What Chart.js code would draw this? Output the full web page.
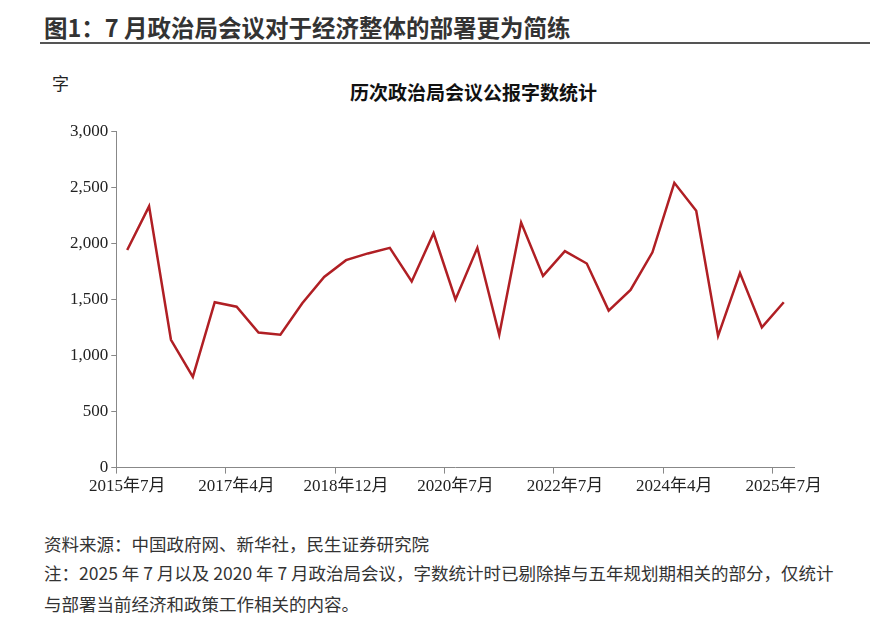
<!DOCTYPE html>
<html><head><meta charset="utf-8">
<script src="https://cdn.jsdelivr.net/npm/chart.js@4"></script>
<style>
body{margin:0;width:886px;height:627px;background:#fff;font-family:"Noto Sans CJK SC",sans-serif;position:relative;overflow:hidden}
.hd{position:absolute;left:44px;top:10px;font-size:23.5px;font-weight:bold;color:#333}
.line{position:absolute;left:40px;top:42px;width:830px;border-top:2px solid #555}
.unit{position:absolute;left:52px;top:70px;font-size:17px;color:#222}
.ttl{position:absolute;left:350px;top:78px;font-size:19px;font-weight:bold;color:#111}
.foot{position:absolute;left:44px;font-size:17.5px;color:#333}
#wrap{position:absolute;left:67px;top:118px;width:758px;height:382px}
</style></head><body>
<div class="hd">图1：7 月政治局会议对于经济整体的部署更为简练</div>
<div class="line"></div>
<div class="unit">字</div>
<div class="ttl">历次政治局会议公报字数统计</div>
<div id="wrap"><canvas id="c"></canvas></div>
<div class="foot" style="top:531px">资料来源：中国政府网、新华社，民生证券研究院</div>
<div class="foot" style="top:560px">注：2025 年 7 月以及 2020 年 7 月政治局会议，字数统计时已剔除掉与五年规划期相关的部分，仅统计</div>
<div class="foot" style="top:591px">与部署当前经济和政策工作相关的内容。</div>
<script>
// 横轴只标每第5次会议
const tickLabels = ['2015年7月','2017年4月','2018年12月','2020年7月','2022年7月','2024年4月','2025年7月'];
const wordCounts = [1940,2330,1140,810,1475,1435,1205,1185,1465,1700,1850,1910,1960,1660,2090,1500,1960,1185,2185,1710,1930,1820,1400,1585,1920,2540,2290,1175,1735,1250,1475];
const labels = wordCounts.map((v,i)=> i%5===0 ? tickLabels[i/5] : '');
const serif = '"Times New Roman","Liberation Serif","Noto Sans CJK SC",serif';

new Chart(document.getElementById('c'), {
  type:'line',
  data:{labels, datasets:[{data:wordCounts, borderColor:'#b01f24', borderWidth:2.5, pointRadius:0, tension:0}]},
  options:{
    responsive:true, maintainAspectRatio:false, animation:false,
    layout:{padding:{right:0}},
    plugins:{legend:{display:false}, tooltip:{enabled:false}},
    scales:{
      x:{offset:true,
        grid:{offset:true, drawOnChartArea:false, tickLength:6, color:(c)=> (c.index%5===0)?'#888':'rgba(0,0,0,0)'},
        border:{color:'#888'},
        ticks:{autoSkip:false, maxRotation:0, color:'#222', font:{family:serif,size:17}}},
      y:{min:0,max:3000,
        ticks:{stepSize:500, color:'#222', font:{family:serif,size:17}, callback:v=>v.toLocaleString('en-US')},
        grid:{drawOnChartArea:false, tickLength:5, color:'#888'},
        border:{color:'#888'}}
    }
  }
});
</script>
</body></html>
